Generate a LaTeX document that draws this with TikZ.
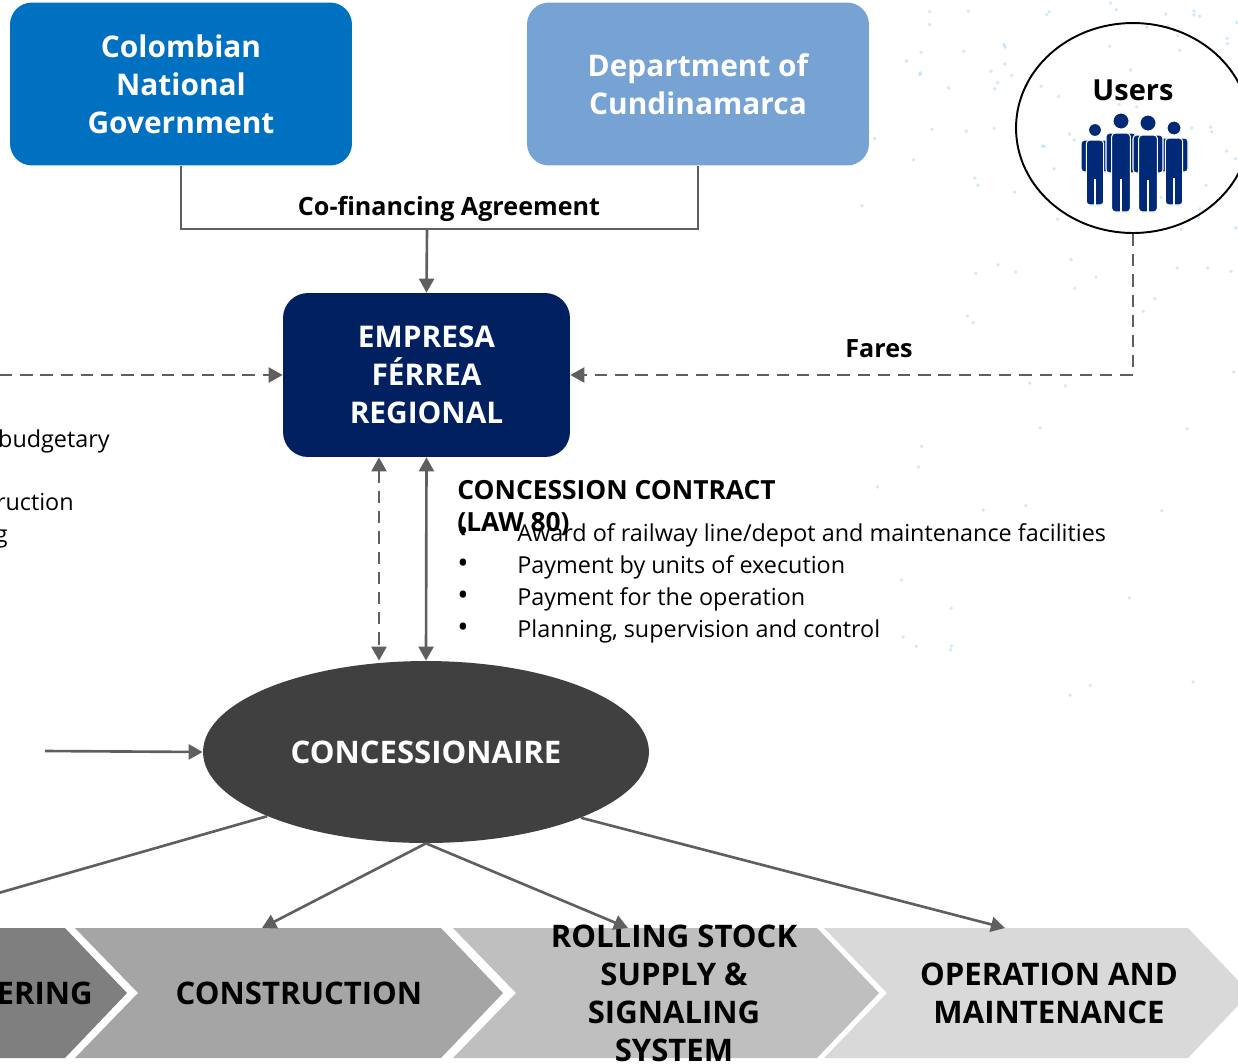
\documentclass[tikz,border=0pt]{standalone}
\usepackage{fontspec}
\setmainfont{Open Sans}
\usepackage{tikz}
\usetikzlibrary{arrows.meta,shapes.geometric}
\definecolor{govblue}{HTML}{0070C0}
\definecolor{depblue}{HTML}{76A2D4}
\definecolor{navy}{HTML}{002060}
\definecolor{usernavy}{HTML}{002A78}
\definecolor{concgray}{HTML}{404040}
\definecolor{linegray}{HTML}{5F5F5F}
\definecolor{dotblue}{HTML}{8CCBEA}
\definecolor{stageA}{HTML}{7F7F7F}
\definecolor{stageB}{HTML}{A5A5A5}
\definecolor{stageC}{HTML}{BFBFBF}
\definecolor{stageD}{HTML}{D9D9D9}
\tikzstyle{org}=[rectangle, rounded corners=0.44cm, minimum width=6.84cm, minimum height=3.26cm, inner sep=0pt, align=center, text=white, font=\fontsize{17}{21.6}\selectfont\bfseries]
\tikzstyle{link}=[draw=linegray, line width=1.5pt]
\tikzstyle{dlink}=[link, dash pattern=on 7pt off 4.5pt]
\tikzstyle{annot}=[align=center, inner sep=0pt, font=\fontsize{14.3}{18}\selectfont\bfseries]
\tikzstyle{stagetext}=[align=center, inner sep=0pt, font=\fontsize{17.7}{21.6}\selectfont\bfseries]
\tikzstyle{bullets}=[align=left, inner sep=0pt, font=\fontsize{13.3}{18.2}\selectfont]
\tikzset{>={Triangle[length=8pt,width=8.5pt]}}
\newcommand{\bul}{\makebox[1.2cm][l]{\fontsize{17}{18.2}\selectfont\textbullet}}
% one stage of the chain: left x, right x, colour
\newcommand{\stagebox}[3]
{
  \fill[#3] (#1,928) -- (#2,928) -- ({#2+62},993) -- (#2,1058) -- (#1,1058) -- ({#1+63},993) -- cycle;
}
% one person: head x, head y, head radius, shoulder y, half width, arm end y, foot y
\newcommand{\userfig}[7]
{
  \fill[usernavy, draw=white, line width=0.6pt] (#1,#2) circle (#3);
  \fill[usernavy, draw=white, line width=0.6pt, rounded corners=2pt] ({#1-#5},#4) rectangle ({#1+#5},#6);
  \fill[usernavy, draw=white, line width=0.6pt, rounded corners=2pt] ({#1-0.62*#5},#4) rectangle ({#1+0.62*#5},#7);
  \draw[white, line width=0.6pt] ({#1-0.62*#5},{#4+4}) -- ({#1-0.62*#5},#6);
  \draw[white, line width=0.6pt] ({#1+0.62*#5},{#4+4}) -- ({#1+0.62*#5},#6);
  \draw[white, line width=0.6pt] (#1,{(#4+#7)/2+6}) -- (#1,#7);
}
\begin{document}
\begin{tikzpicture}[x=0.02cm, y=-0.02cm]
	\useasboundingbox (0,0) rectangle (1238,1063);
	\clip (0,0) rectangle (1238,1063);

	% faint dots behind the users
	\pgfmathsetseed{12}
	\foreach \d in {1,...,110}
		\fill[dotblue, opacity=0.4] ({850+388*rnd},{760*rnd*rnd}) circle (1.1pt);

	\stagebox{-200}{65}{stageA}
	\stagebox{75}{441}{stageB}
	\stagebox{453}{817}{stageC}
	\stagebox{824}{1188}{stageD}

	\node[org, fill=govblue] (cng) at (181,84) {Colombian\\National\\Government};
	\node[org, fill=depblue] (dept) at (698,84) {Department of\\Cundinamarca};
	\node[org, fill=navy, minimum width=5.74cm, minimum height=3.28cm, rounded corners=0.5cm] (efr) at (426.5,375) {EMPRESA\\FÉRREA\\REGIONAL};
	\node[ellipse, fill=concgray, minimum width=8.92cm, minimum height=3.64cm, inner sep=0pt, text=white, font=\fontsize{17.7}{21.6}\selectfont\bfseries] (conc) at (426,752) {CONCESSIONAIRE};

	\node[ellipse, draw=black, line width=1.1pt, minimum width=4.68cm, minimum height=4.2cm, inner sep=0pt] (users) at (1133,128) {};
	\node[annot, font=\fontsize{16.5}{20}\selectfont\bfseries] (userslbl) at (1133,90) {Users};
	\userfig{1095}{130}{3.7pt}{140}{14}{172}{205}
	\userfig{1174}{128}{4pt}{138}{14}{172}{205}
	\userfig{1121}{121}{4.6pt}{133}{15}{173}{212}
	\userfig{1148}{123}{4.6pt}{135}{15}{173}{212}

	% co-financing bracket
	\coordinate (cof) at (427,229);
	\draw[link] (cng.south) -- (cng.south |- cof) -- (dept.south |- cof) -- (dept.south);
	\draw[link,->] (cof) -- (efr.north);
	\node[annot] (cofin) at (449,209) {Co-financing Agreement};

	% fares
	\draw[dlink,->] (users.south) |- (efr.east);
	\node[annot] (fares) at (879,349) {Fares};

	% left side
	\coordinate (lin) at (0,375);
	\draw[dlink,->] (lin) -- (efr.west);
	\node[bullets, anchor=base east] (f1) at (110,447) {budgetary};
	\node[bullets, anchor=base east] (f2) at (74,510) {ruction};
	\node[bullets, anchor=base east] (f3) at (8,542) {g};
	\coordinate (cin) at (45,751);
	\draw[link,->] (cin) -- (conc.west);

	% contract
	\coordinate (dx) at (379,0);
	\draw[dlink,<->] (dx |- efr.south) -- (dx |- conc.north);
	\draw[link,<->] (efr.south) -- (conc.north);
	\node[annot, align=left, anchor=west, font=\fontsize{15}{18.2}\selectfont\bfseries] (contract) at (457,508) {CONCESSION CONTRACT\\(LAW 80)};
	\node[bullets, anchor=west] (items) at (457,583) {\bul Award of railway line/depot and maintenance facilities\\\bul Payment by units of execution\\\bul Payment for the operation\\\bul Planning, supervision and control};

	% stages
	\node[stagetext, anchor=east] (eng) at (93,993) {ERING};
	\node[stagetext] (cons) at (299,993) {CONSTRUCTION};
	\node[stagetext] (rs) at (674,993) {ROLLING STOCK\\SUPPLY \&\\SIGNALING\\SYSTEM};
	\node[stagetext] (om) at (1049,993) {OPERATION AND\\MAINTENANCE};

	\coordinate (t1) at (-40,904);
	\coordinate (t2) at (262,928);
	\coordinate (t3) at (628,928);
	\coordinate (t4) at (1005,928);
	\draw[link] (conc.202) -- (t1);
	\draw[link,->] (conc.south) -- (t2);
	\draw[link,->] (conc.south) -- (t3);
	\draw[link,->] (conc.337) -- (t4);

\end{tikzpicture}
\end{document}
